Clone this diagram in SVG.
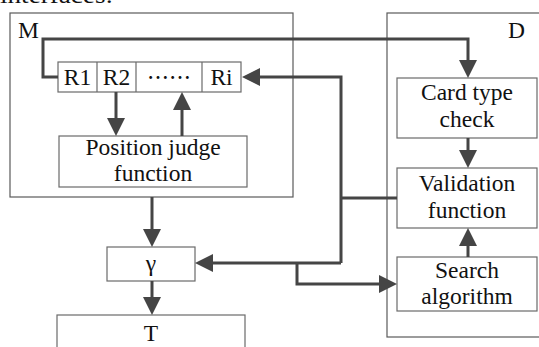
<svg xmlns="http://www.w3.org/2000/svg" width="539" height="347" viewBox="0 0 539 347">
  <style>
    .box { fill: #ffffff; stroke: #6a6a6a; stroke-width: 1.2; }
    .frame { fill: none; stroke: #5a5a5a; stroke-width: 1.2; }
    .mid { text-anchor: middle; }
    .wire { fill: none; stroke: #454545; stroke-width: 3; stroke-linejoin: miter; }
    .arr { marker-end: url(#head); }
  </style>
  <defs>
    <marker id="head" markerUnits="userSpaceOnUse" markerWidth="18" markerHeight="18" viewBox="0 0 18 18" refX="6" refY="9" orient="auto">
      <path d="M0,0 L18,9 L0,18 Z" fill="#454545"/>
    </marker>
  </defs>

  <rect width="539" height="347" fill="#ffffff"/>

  <g font-family="Liberation Serif, Times New Roman, DejaVu Serif, serif" font-size="23.5" fill="#111111">

    <!-- heading text running off the top edge -->
    <text x="0" y="2.5" textLength="113" lengthAdjust="spacingAndGlyphs">interfaces:</text>

    <!-- module M -->
    <g id="module-M">
      <rect class="frame" x="10" y="13" width="283" height="184"/>
      <text x="18" y="38">M</text>
    </g>

    <!-- module D -->
    <g id="module-D">
      <rect class="frame" x="387" y="13" width="170" height="324"/>
      <text x="508" y="38">D</text>
    </g>

    <!-- register row -->
    <g id="registers">
      <rect class="box" x="58" y="62" width="183" height="30"/>
      <line class="box" x1="97" y1="62" x2="97" y2="92"/>
      <line class="box" x1="136" y1="62" x2="136" y2="92"/>
      <line class="box" x1="202" y1="62" x2="202" y2="92"/>
      <text class="mid" x="77.5" y="85">R1</text>
      <text class="mid" x="116.5" y="85">R2</text>
      <text class="mid" x="169" y="85" font-family="Noto Sans CJK SC, sans-serif" font-size="22">……</text>
      <text class="mid" x="221.5" y="85">Ri</text>
    </g>

    <g id="position-judge">
      <rect class="box" x="59" y="136" width="188" height="51"/>
      <text class="mid" x="153" y="155">Position judge</text>
      <text class="mid" x="153" y="181">function</text>
    </g>

    <g id="gamma">
      <rect class="box" x="107" y="247" width="88" height="34"/>
      <text class="mid" x="151" y="271">γ</text>
    </g>

    <g id="T">
      <rect class="box" x="57" y="315" width="188" height="45"/>
      <text class="mid" x="151" y="341">T</text>
    </g>

    <g id="card-type-check">
      <rect class="box" x="397" y="78" width="140" height="60"/>
      <text class="mid" x="467" y="100">Card type</text>
      <text class="mid" x="467" y="127">check</text>
    </g>

    <g id="validation">
      <rect class="box" x="397" y="168" width="140" height="60"/>
      <text class="mid" x="467" y="191">Validation</text>
      <text class="mid" x="467" y="218">function</text>
    </g>

    <g id="search">
      <rect class="box" x="397" y="257" width="140" height="54"/>
      <text class="mid" x="467" y="278">Search</text>
      <text class="mid" x="467" y="304">algorithm</text>
    </g>
  </g>

  <!-- connectors: paths stop 12px short of the target, the head covers the rest -->
  <g id="connectors">
    <path class="wire arr" d="M58,77 H43 V39 H468 V66"/>
    <path class="wire arr" d="M116,92 V124"/>
    <path class="wire arr" d="M182,136 V104"/>
    <path class="wire" d="M397,198 H341"/>
    <path class="wire arr" d="M341,263 V77 H254"/>
    <path class="wire arr" d="M341,263 H207"/>
    <path class="wire arr" d="M297,263 V284 H385"/>
    <path class="wire arr" d="M152,197 V235"/>
    <path class="wire arr" d="M152,281 V303"/>
    <path class="wire arr" d="M468,138 V156"/>
    <path class="wire arr" d="M468,257 V240"/>
  </g>
</svg>
